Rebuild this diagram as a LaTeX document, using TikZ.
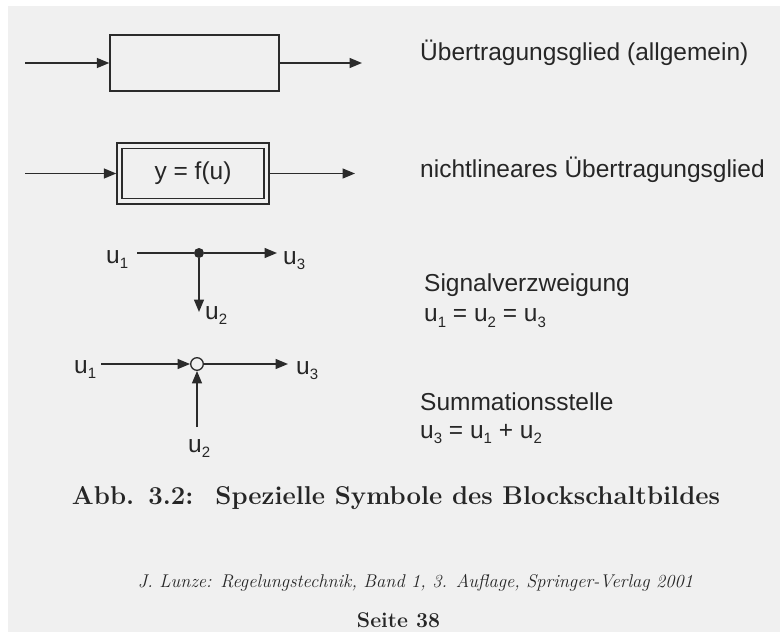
\documentclass[tikz,border=0pt]{standalone}
\usepackage{fontspec}
\usepackage{graphicx}
\usetikzlibrary{arrows.meta}
\newfontfamily\sff{Liberation Sans}
\definecolor{linec}{HTML}{2B2B2B}
\definecolor{textc}{HTML}{262626}
\definecolor{bgc}{HTML}{F0F0F0}
\newcommand\sub[1]{\raisebox{-5.5pt}{\fontsize{15}{15}\selectfont #1}}
\tikzset{
  ln/.style={draw=linec, line width=1.4pt},
  arr/.style={ln, -{Triangle[length=12.5pt,width=10pt]}},
  blk/.style={draw=linec, line width=1.4pt, inner sep=0pt},
  lbl/.style={anchor=base west, inner sep=0pt, text=textc, font=\sff\fontsize{24.5}{29}\selectfont},
  serif/.style={anchor=base, inner sep=0pt, text=textc},
}
\begin{document}
\begin{tikzpicture}[x=1pt,y=-1pt]
\useasboundingbox (0,0) rectangle (780,632);
\fill[white] (0,0) rectangle (780,632);
\fill[bgc] (8,6) rectangle (780,632);

% row 1: general block
\node[blk, minimum width=169pt, minimum height=56pt] (b1) at (194.5,63) {};
\coordinate (in1) at (25,63);
\coordinate (out1) at (362,63);
\draw[arr] (in1) -- (b1.west);
\draw[arr] (b1.east) -- (out1);
\node[lbl] (t1) at (420,60.5) {Übertragungsglied (allgemein)};

% row 2: nonlinear block
\node[blk, minimum width=152pt, minimum height=61pt] (b2o) at (193,173.5) {};
\node[blk, line width=1.2pt, minimum width=142pt, minimum height=50pt, font=\sff\fontsize{24.5}{29}\selectfont, text=textc] (b2i) at (193,173.5) {y = f(u)};
\coordinate (in2) at (25,173.5);
\coordinate (out2) at (355,173.5);
\draw[arr] (in2) -- (b2o.west);
\draw[arr] (b2o.east) -- (out2);
\node[lbl] (t2) at (420,177) {nichtlineares Übertragungsglied};

% row 3: branch
\node[circle, fill=linec, inner sep=0pt, minimum size=10pt] (dot) at (199,253) {};
\coordinate (s3) at (137,253);
\coordinate (e3) at (277,253);
\coordinate (e3d) at (199,312);
\draw[ln] (s3) -- (dot);
\draw[arr] (dot) -- (e3);
\draw[arr] (dot) -- (e3d);
\node[lbl] (u31) at (106,263) {u\sub{1}};
\node[lbl] (u33) at (283,264) {u\sub{3}};
\node[lbl] (u32) at (205,319) {u\sub{2}};
\node[lbl] (t3) at (424,291.5) {Signalverzweigung};
\node[lbl] (t3e) at (424,321.5) {u\sub{1} = u\sub{2} = u\sub{3}};

% row 4: summation
\node[circle, draw=linec, line width=1.3pt, inner sep=0pt, minimum size=12.6pt] (sum) at (197,364) {};
\coordinate (s4) at (101,364);
\coordinate (e4) at (288,364);
\coordinate (s4u) at (197,427);
\draw[arr] (s4) -- (sum.west);
\draw[arr] (sum.east) -- (e4);
\draw[arr] (s4u) -- (sum.south);
\node[lbl] (u41) at (74,373) {u\sub{1}};
\node[lbl] (u43) at (296,374) {u\sub{3}};
\node[lbl] (u42) at (188,452) {u\sub{2}};
\node[lbl] (t4) at (420,410) {Summationsstelle};
\node[lbl] (t4e) at (420,438) {u\sub{3} = u\sub{1} + u\sub{2}};

% caption and footer
\node[serif] (cap) at (396,504) {\resizebox{648pt}{!}{\fontsize{25}{30}\selectfont\bfseries Abb.\hspace{0.55em}3.2:\hspace{0.85em}Spezielle Symbole des Blockschaltbildes}};
\node[serif] (cite) at (415.5,587) {\resizebox{555pt}{!}{\fontsize{19}{23}\selectfont\itshape J. Lunze: Regelungstechnik, Band 1, 3. Auflage, Springer-Verlag 2001}};
\node[serif] (page) at (398.5,627) {\resizebox{83pt}{!}{\fontsize{20}{24}\selectfont\bfseries Seite 38}};
\end{tikzpicture}
\end{document}
